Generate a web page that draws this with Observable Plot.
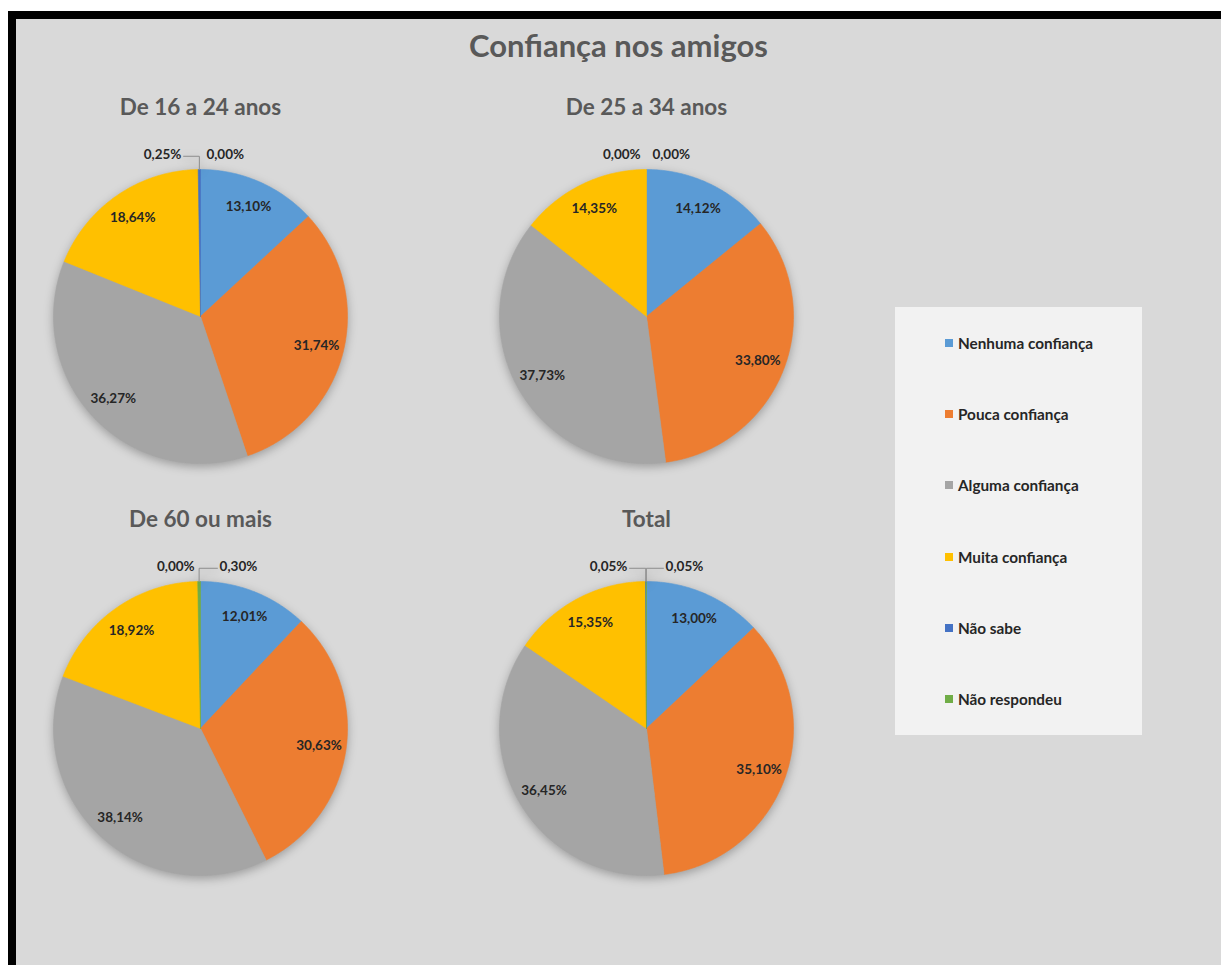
<!DOCTYPE html>
<html><head><meta charset="utf-8">
<script src="https://cdn.jsdelivr.net/npm/d3@7"></script>
<script src="https://cdn.jsdelivr.net/npm/@observablehq/plot@0.6"></script>
<style>
body{margin:0;background:#fff;font-family:Lato,"Open Sans",sans-serif;}
#page{position:relative;width:1221px;height:965px;overflow:hidden;}
#frame{position:absolute;left:8px;top:11px;right:0;bottom:0;border-left:8px solid #000;border-top:8px solid #000;background:#d9d9d9;}
#title{position:absolute;left:16px;width:1205px;top:25px;text-align:center;font-weight:700;font-size:31px;color:#595959;line-height:40px;}
.pie{position:absolute;}
.pie g[aria-label="line"]{filter:drop-shadow(0 3px 5px rgba(0,0,0,0.28));}
#legend{position:absolute;left:895px;top:307px;width:247px;height:428px;background:#f2f2f2;display:flex;flex-direction:column;justify-content:space-around;}
.item{display:flex;align-items:center;padding-left:50px;font-weight:700;font-size:15.3px;color:#262626;}
.sw{width:8px;height:8px;margin-right:5px;}
</style></head>
<body><div id="page"><div id="frame"></div><div id="title"></div><div id="legend"></div></div>
<script>
const chartTitle = "Confiança nos amigos";
const categories = ["Nenhuma confiança","Pouca confiança","Alguma confiança","Muita confiança","Não sabe","Não respondeu"];
const colors = ["#5b9bd5","#ed7d31","#a5a5a5","#ffc000","#4472c4","#70ad47"];
const groups = ["De 16 a 24 anos","De 25 a 34 anos","De 60 ou mais","Total"];
const values16_24 = [13.10,31.74,36.27,18.64,0.25,0.00];
const values25_34 = [14.12,33.80,37.73,14.35,0.00,0.00];
const values60mais = [12.01,30.63,38.14,18.92,0.00,0.30];
const valuesTotal = [13.00,35.10,36.45,15.35,0.05,0.05];
const seriesValues = [values16_24, values25_34, values60mais, valuesTotal];

// layout
const colX = [200, 646], rowY = [316, 728];
const R = 147, W = 400, H = 400, CX = 200, CY = 240;
const fmt = v => v.toFixed(2).replace(".", ",") + "%";

document.getElementById("title").textContent = chartTitle;
const leg = document.getElementById("legend");
categories.forEach((c,i)=>{
  const d = document.createElement("div"); d.className="item";
  d.innerHTML = `<span class="sw" style="background:${colors[i]}"></span><span>${c}</span>`;
  leg.appendChild(d);
});

function piePlot(title, values) {
  const total = d3.sum(values);
  let acc = 0;
  const slices = values.map((v,i)=>{const a0 = acc/total*2*Math.PI; acc += v; const a1 = acc/total*2*Math.PI; return {i, cat:categories[i], v, a0, a1, mid:(a0+a1)/2};});
  const pts = [];
  for (const s of slices) {
    if (s.v <= 0) continue;
    pts.push({cat:s.cat, x:0, y:0});
    const n = Math.max(2, Math.ceil((s.a1-s.a0)/(Math.PI/360)));
    for (let k=0;k<=n;k++){const a = s.a0+(s.a1-s.a0)*k/n; pts.push({cat:s.cat, x:Math.sin(a), y:Math.cos(a)});}
    pts.push({cat:s.cat, x:0, y:0});
  }
  const labels = [], leaders = [];
  for (const s of slices) {
    if (s.v >= 1) {
      labels.push({x:0.815*Math.sin(s.mid), y:0.815*Math.cos(s.mid), t:fmt(s.v), anchor:"middle"});
    } else {
      const left = s.i === 4;
      const off = s.v > 0 ? 0.13 : 0.04;
      const lx = left ? -off : off, ly = 1.1;
      labels.push({x:lx, y:ly, t:fmt(s.v), anchor: left ? "end" : "start"});
      if (s.v > 0) {
        const px = Math.sin(s.mid), py = Math.cos(s.mid);
        const id = s.cat;
        leaders.push({id, x:px, y:py}, {id, x:px, y:ly-0.01}, {id, x:lx + (left?0.015:-0.015), y:ly-0.01});
      }
    }
  }
  const ts = {fontWeight:700, fontSize:13.5, fill:"#262626"};
  return Plot.plot({
    width: W, height: H, margin: 0,
    x: {domain: [-CX/R, (W-CX)/R], axis: null},
    y: {domain: [-(H-CY)/R, CY/R], axis: null},
    color: {domain: categories, range: colors},
    style: "background:transparent;overflow:visible;font-family:Lato,'Open Sans',sans-serif;",
    marks: [
      Plot.line(pts, {x:"x", y:"y", z:"cat", fill:"cat", stroke:"cat", strokeWidth:0.6, curve:"linear"}),
      Plot.line(leaders, {x:"x", y:"y", z:"id", stroke:"#8c8c8c", strokeWidth:1}),
      Plot.text(labels.filter(d=>d.anchor==="middle"), {x:"x", y:"y", text:"t", ...ts}),
      Plot.text(labels.filter(d=>d.anchor==="end"), {x:"x", y:"y", text:"t", textAnchor:"end", ...ts}),
      Plot.text(labels.filter(d=>d.anchor==="start"), {x:"x", y:"y", text:"t", textAnchor:"start", ...ts}),
      Plot.text([title], {x:0, frameAnchor:"top", lineAnchor:"middle", dy:31, text:d=>d, fontWeight:700, fontSize:22.5, fill:"#595959"})
    ]
  });
}

const page = document.getElementById("page");
groups.forEach((g, k) => {
  const el = piePlot(g, seriesValues[k]);
  const wrap = document.createElement("div");
  wrap.className = "pie";
  wrap.style.left = (colX[k%2] - CX) + "px";
  wrap.style.top = (rowY[Math.floor(k/2)] - CY) + "px";
  wrap.appendChild(el);
  page.appendChild(wrap);
});
</script></body></html>
